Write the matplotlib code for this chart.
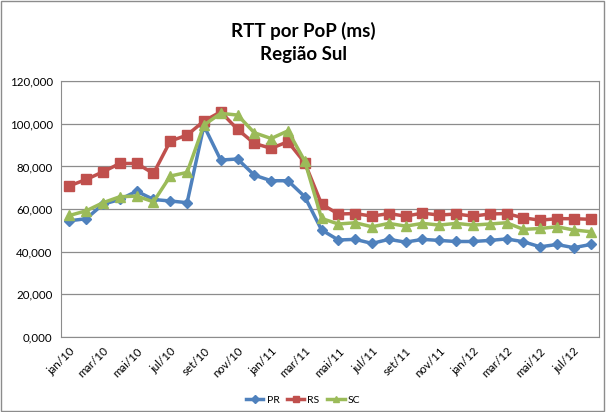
import matplotlib.pyplot as plt
from matplotlib.patches import Rectangle
import numpy as np

# monthly labels jan/10 .. ago/12
months = ['jan', 'fev', 'mar', 'abr', 'mai', 'jun', 'jul', 'ago', 'set', 'out', 'nov', 'dez']
labels = [f'{m}/{y}' for y in ['10', '11', '12'] for m in months][:32]

pr = [54.5, 55.5, 62.3, 64.5, 68.4, 64.5, 63.8, 63.0, 99.1, 83.0, 83.5, 75.9,
      73.3, 73.3, 65.8, 50.2, 45.5, 45.8, 43.9, 45.8, 44.5, 45.8, 45.3, 44.8,
      44.8, 45.3, 46.0, 44.7, 42.3, 43.4, 41.9, 43.4]
rs = [70.9, 73.9, 77.5, 81.4, 81.4, 76.7, 91.9, 94.7, 101.3, 105.6, 97.4, 90.8,
      88.5, 91.6, 81.7, 62.3, 57.7, 57.9, 56.7, 57.9, 56.7, 58.1, 57.2, 57.7,
      56.7, 57.7, 57.9, 55.9, 54.8, 55.5, 55.5, 55.2]
sc = [57.0, 59.2, 63.0, 65.8, 66.1, 63.4, 75.5, 77.2, 99.4, 104.9, 104.1, 95.8,
      93.1, 96.7, 82.5, 55.6, 53.0, 53.6, 51.7, 53.3, 52.0, 53.3, 52.5, 53.3,
      52.5, 53.0, 53.6, 50.5, 50.9, 51.7, 50.2, 49.4]

plt.rcParams['font.family'] = ['Lato', 'DejaVu Sans']

fig = plt.figure(figsize=(6.06, 4.12), dpi=100)
ax = fig.add_axes([0.1007, 0.182, 0.8877, 0.621])

x = np.arange(len(labels))
ax.plot(x, pr, color='#4F81BD', lw=2.5, marker='D', ms=5.5, label='PR')
ax.plot(x, rs, color='#C0504D', lw=2.5, marker='s', ms=6.5, label='RS')
ax.plot(x, sc, color='#9BBB59', lw=2.5, marker='^', ms=7, label='SC')

ax.set_xlim(-0.5, len(labels) - 0.5)
ax.set_ylim(0, 120)
yt = np.arange(0, 121, 20)
ax.set_yticks(yt)
ax.set_yticklabels([f'{v:.3f}'.replace('.', ',') for v in yt], fontsize=8.3)
ax.set_xticks(x[::2])
ax.set_xticklabels(labels[::2], rotation=45, ha='right', rotation_mode='anchor', fontsize=8.3)
ax.tick_params(axis='both', length=0, pad=6)
ax.grid(axis='y', color='#8c8c8c', lw=0.9)
ax.set_axisbelow(True)
for s in ax.spines.values():
    s.set_color('#8c8c8c')

fig.text(0.5, 0.925, 'RTT por PoP (ms)', ha='center', va='center', fontsize=13.5, fontweight='bold')
fig.text(0.5, 0.868, 'Região Sul', ha='center', va='center', fontsize=13.5, fontweight='bold')

fig.legend(loc='center', bbox_to_anchor=(0.5, 0.028), ncol=3, frameon=False,
           fontsize=7.5, handlelength=1.7, columnspacing=0.7, handletextpad=0.3,
           markerscale=0.7)

fig.patches.append(Rectangle((0.002, 0.002), 0.995, 0.995, transform=fig.transFigure,
                             fill=False, edgecolor='#8c8c8c', lw=1))

fig.savefig('out.png', dpi=100)
